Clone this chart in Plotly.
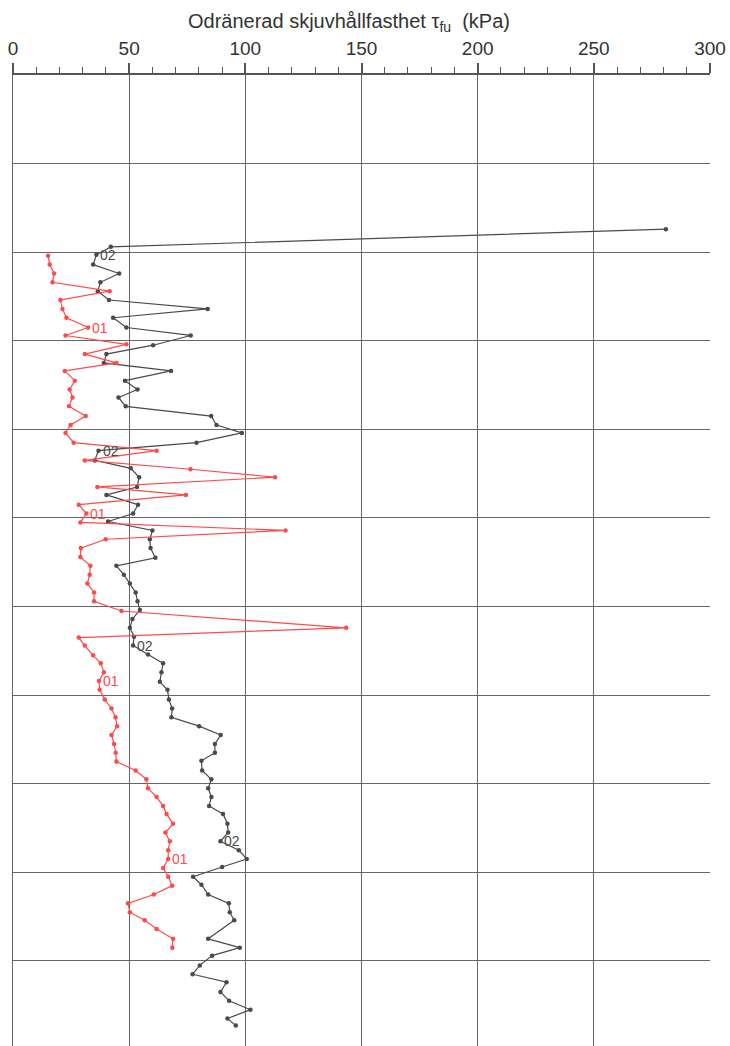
import plotly.graph_objects as go

# Borrhål 02 (svart): djup (m) och odränerad skjuvhållfasthet (kPa)
depth_02 = [1.74, 1.94, 2.03, 2.14, 2.24, 2.34, 2.44, 2.54, 2.64, 2.74, 2.85, 2.94,
            3.05, 3.15, 3.25, 3.34, 3.45, 3.55, 3.64, 3.74, 3.85, 3.95, 4.04, 4.15,
            4.24, 4.35, 4.44, 4.54, 4.65, 4.74, 4.85, 4.95, 5.04, 5.14, 5.24, 5.34,
            5.45, 5.54, 5.64, 5.74, 5.84, 5.94, 6.04, 6.14, 6.24, 6.34, 6.44, 6.54,
            6.64, 6.74, 6.85, 6.94, 7.05, 7.15, 7.25, 7.35, 7.45, 7.55, 7.65, 7.74,
            7.85, 7.95, 8.05, 8.15, 8.25, 8.34, 8.45, 8.55, 8.65, 8.75, 8.85, 8.94,
            9.05, 9.14, 9.25, 9.35, 9.45, 9.54, 9.75, 9.85, 9.94, 10.05, 10.15, 10.24,
            10.35, 10.45, 10.55, 10.65, 10.73]
tau_02 = [281.0, 42.1, 35.9, 34.5, 45.7, 37.6, 36.5, 41.3, 83.8, 43.1, 48.8, 76.5,
          60.3, 40.2, 39.1, 68.0, 48.2, 53.6, 45.4, 48.5, 85.3, 87.6, 98.5, 79.0,
          36.8, 35.2, 50.7, 54.3, 53.4, 40.2, 53.8, 51.7, 40.9, 60.0, 58.9, 59.2,
          61.3, 44.5, 47.7, 50.3, 52.8, 53.6, 54.6, 51.4, 50.3, 52.1, 51.7, 58.1,
          64.6, 63.9, 63.2, 66.5, 67.1, 68.5, 68.2, 80.1, 89.4, 86.9, 86.9, 81.1,
          81.4, 85.4, 84.0, 85.4, 84.4, 90.4, 92.3, 92.6, 89.3, 97.2, 100.6, 90.0,
          77.5, 81.1, 84.0, 92.9, 93.3, 95.2, 84.0, 97.6, 85.7, 80.4, 77.3, 91.9,
          89.3, 93.0, 102.2, 92.3, 95.9]

# Borrhål 01 (röd)
depth_01 = [2.04, 2.14, 2.24, 2.34, 2.44, 2.54, 2.64, 2.74, 2.85, 2.94, 3.04, 3.15,
            3.25, 3.34, 3.45, 3.55, 3.64, 3.74, 3.85, 3.95, 4.04, 4.15, 4.24, 4.35,
            4.45, 4.54, 4.65, 4.74, 4.85, 4.95, 5.05, 5.14, 5.24, 5.34, 5.44, 5.54,
            5.64, 5.74, 5.84, 5.94, 6.05, 6.24, 6.35, 6.44, 6.55, 6.64, 6.74, 6.84,
            6.94, 7.05, 7.15, 7.25, 7.35, 7.45, 7.55, 7.65, 7.75, 7.85, 7.95, 8.05,
            8.15, 8.25, 8.34, 8.45, 8.55, 8.65, 8.75, 8.85, 8.95, 9.05, 9.15, 9.25,
            9.35, 9.45, 9.54, 9.64, 9.75, 9.85]
tau_01 = [15.1, 15.8, 17.7, 17.0, 41.6, 20.4, 21.3, 23.0, 32.3, 22.6, 48.8, 30.9,
          44.5, 22.3, 26.6, 24.4, 25.6, 24.1, 31.3, 24.8, 22.6, 26.1, 61.8, 30.9,
          76.4, 112.8, 36.3, 74.4, 28.3, 31.6, 29.0, 117.3, 39.9, 29.2, 29.0, 33.3,
          33.0, 32.0, 34.9, 34.9, 46.7, 143.4, 28.3, 30.9, 34.5, 37.8, 39.1, 37.0,
          37.3, 39.5, 42.4, 44.1, 44.8, 42.4, 43.5, 44.2, 44.5, 52.8, 57.4, 58.1,
          61.8, 64.6, 66.1, 68.9, 65.6, 67.5, 66.8, 66.8, 64.6, 66.8, 68.5, 60.6,
          49.5, 50.3, 56.7, 61.8, 68.9, 68.6]

# Punkter där borrhålsbeteckningen skrivs ut
label_idx_02 = [2, 24, 46, 68]
label_idx_01 = [8, 29, 47, 67]

x_ticks = [0, 50, 100, 150, 200, 250, 300]

BLACK = "#4a4a4a"
RED = "#ff4a4a"
GRID = "#666666"
TEXT = "#333333"
FONT = "Liberation Sans, Arial"

fig = go.Figure()

fig.add_trace(go.Scatter(
    x=tau_02, y=depth_02, mode="lines+markers", name="02",
    line=dict(color=BLACK, width=1.2),
    marker=dict(color=BLACK, size=4.5, symbol="circle"),
))
fig.add_trace(go.Scatter(
    x=tau_01, y=depth_01, mode="lines+markers", name="01",
    line=dict(color=RED, width=1.2),
    marker=dict(color=RED, size=4.5, symbol="circle"),
))

for i in label_idx_02:
    fig.add_annotation(x=tau_02[i], y=depth_02[i], text="02", showarrow=False,
                       xanchor="left", yanchor="middle", xshift=2,
                       font=dict(family=FONT, size=14, color=BLACK))
for i in label_idx_01:
    fig.add_annotation(x=tau_01[i], y=depth_01[i], text="01", showarrow=False,
                       xanchor="left", yanchor="middle", xshift=2,
                       font=dict(family=FONT, size=14, color=RED))

fig.add_annotation(
    xref="paper", yref="paper", x=0.5, y=1, yshift=53, xshift=-13,
    text="Odränerad skjuvhållfasthet τ<sub>fu</sub>  (kPa)",
    showarrow=False, xanchor="center", yanchor="middle",
    font=dict(family=FONT, size=20, color=TEXT),
)

fig.update_layout(
    width=730, height=1046,
    margin=dict(l=13, r=20, t=75, b=0),
    paper_bgcolor="white", plot_bgcolor="white",
    showlegend=False,
    xaxis=dict(
        side="top", range=[0, 300], tickvals=x_ticks,
        ticks="outside", ticklen=10, tickwidth=1.5, tickcolor="#555555",
        showline=True, linecolor="#555555", linewidth=2,
        showgrid=True, gridcolor=GRID, gridwidth=1.3, zeroline=False,
        tickfont=dict(family=FONT, size=19, color=TEXT),
        minor=dict(dtick=10, tick0=0, ticks="outside", ticklen=6,
                   tickcolor="#555555", tickwidth=1.2, showgrid=False),
    ),
    yaxis=dict(
        range=[10.96, 0], dtick=1, tick0=0,
        showticklabels=False, ticks="",
        showgrid=True, gridcolor=GRID, gridwidth=1.3, zeroline=False,
        showline=True, linecolor=GRID, linewidth=1.3,
    ),
)

fig.write_html("out.html")
